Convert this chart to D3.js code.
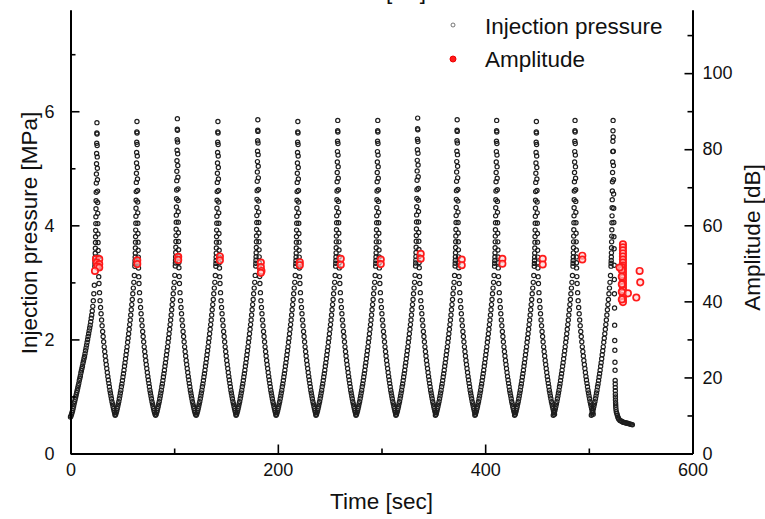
<!DOCTYPE html>
<html><head><meta charset="utf-8">
<script src="https://cdn.jsdelivr.net/npm/d3@7"></script>
<style>
body{margin:0;background:#fff;}
svg{display:block;font-family:"Liberation Sans",Arial,sans-serif;}
</style></head>
<body>
<svg id="chart" width="765" height="519"></svg>
<script>
// ---------- DATA ----------
// Time of each pressure peak (sec) and peak pressure (MPa)
const peakTimes = [25.5, 64.1, 103.1, 142.2, 180.7, 219.3, 257.8, 296.4, 334.9, 373.0, 411.1, 449.4, 486.7, 523.4];
const peakPressures = [5.80, 5.82, 5.87, 5.82, 5.85, 5.82, 5.84, 5.84, 5.88, 5.85, 5.84, 5.82, 5.84, 5.84];

// One injection cycle: time offset from peak (sec) and pressure (MPa)
const cycleOffsets = [
 -21,-20.5,-20,-19.5,-19,-18.5,-18,-17.5,-17,-16.5,-16,-15.5,-15,-14.5,-14,-13.5,-13,-12.5,-12,-11.5,
 -11,-10.5,-10,-9.5,-9,-8.5,-8,-7.5,-7,-6.5,-6,-5.5,-5,-4.5,-4,-3.5,-3,-2.5,
 -2,-1.9,-1.8,-1.7,-1.6,-1.5,-1.4,-1.3,-1.2,-1.1,-1,-0.9,-0.8,-0.7,-0.6,-0.5,-0.4,-0.3,-0.2,-0.1,0,
 0.1,0.2,0.3,0.4,0.5,0.6,0.7,0.8,0.9,1.0,1.1,1.2,1.3,1.4,1.5,1.75,2.0,
 2.5,3,3.5,4,4.5,5,5.5,6,6.5,7,7.5,8,8.5,9,9.5,10,10.5,11,11.5,12,12.5,13,13.5,14,14.5,15,15.5,16,16.5,17,17.5];
const cyclePressures = [
 0.67,0.69,0.72,0.75,0.79,0.83,0.87,0.91,0.96,1.01,1.06,1.11,1.17,1.22,1.28,1.34,1.40,1.46,1.53,1.59,
 1.66,1.73,1.80,1.87,1.95,2.02,2.10,2.18,2.26,2.34,2.43,2.52,2.61,2.70,2.80,2.90,3.00,3.12,
 3.28,3.33,3.38,3.44,3.51,3.60,3.70,3.80,3.91,4.03,4.15,4.29,4.43,4.58,4.74,4.90,5.08,5.26,5.44,5.62,5.80,
 5.60,5.40,5.20,5.00,4.80,4.60,4.40,4.21,4.03,3.85,3.70,3.56,3.44,3.34,3.25,3.10,2.98,
 2.82,2.68,2.56,2.45,2.34,2.24,2.14,2.05,1.96,1.87,1.79,1.71,1.63,1.56,1.49,1.42,1.35,1.29,1.23,1.17,
 1.11,1.06,1.01,0.96,0.91,0.87,0.83,0.79,0.75,0.72,0.69];

// Start of the record (first rise), absolute time (sec) / pressure (MPa)
const startTimes = [0,0.5,1,1.5,2,2.5,3,3.5,4,4.5,5,5.5,6,6.5,7,7.5,8,8.5,9,9.5,10,10.5,11,11.5,12,12.5,13,13.5,14,14.5,15,15.5,16,16.5,17,17.5,18,18.5,19,19.5,20,20.5,21,21.5,22,22.5,23];
const startPressures = [0.64,0.66,0.69,0.72,0.75,0.79,0.83,0.87,0.91,0.95,0.99,1.03,1.07,1.11,1.15,1.19,1.23,1.28,1.32,1.36,1.41,1.45,1.49,1.53,1.58,1.62,1.66,1.70,1.75,1.80,1.85,1.90,1.95,2.00,2.05,2.10,2.15,2.20,2.25,2.31,2.37,2.43,2.50,2.58,2.68,2.80,2.95];

// End of the record (shut-in), absolute time (sec) / pressure (MPa)
const endTimes = [523.5,523.6,523.7,523.8,523.9,524.0,524.1,524.2,524.4,524.5,524.6,524.7,524.8,524.9,525.0,525.1,525.2,525.3,525.4,525.45,525.5,525.55,525.6,525.65,525.7,525.8,525.9,526.0,526.2,526.5,527,527.5,528,528.5,529,530,531,532,533,534,535,536,537,538,539,540,541,542];
const endPressures = [5.55,5.30,5.05,4.80,4.55,4.30,4.05,3.80,3.59,3.30,3.05,2.80,2.55,2.25,1.98,1.81,1.60,1.46,1.28,1.22,1.16,1.10,1.04,0.99,0.94,0.89,0.85,0.81,0.77,0.73,0.70,0.67,0.64,0.62,0.60,0.58,0.57,0.56,0.55,0.545,0.54,0.535,0.53,0.525,0.52,0.515,0.51,0.505];

// Amplitude events: time (sec) and amplitude (dB)
const ampTimes = [
 24.6,27.7,25.3,27.7,25.8,27.7,23.6,
 64.4,64.4, 103.9,103.9, 144.1,144.1, 183.6,183.6,184.2,183.6,
 221.2,221.2, 260.7,260.7, 299.3,299.3, 337.8,337.8, 377.4,377.4, 416.6,416.6, 455.5,455.5, 493.7,493.7,
 532.9,532.9,532.9,532.9,532.9,532.9,532.9,532.9,532.9,532.9,532.9,532.9,532.9,532.9,532.9,532.9,532.9,532.9,532.9,532.9,
 531.8,531.8,531.8,531.8,531.8,531.8,
 529.7,537.7,549.0,549.6,545.8];
const ampDB = [
 51.1,51.1,50.2,49.8,49.2,48.9,48.0,
 50.8,49.8, 51.7,50.9, 51.8,50.8, 50.2,49.0,48.0,47.5,
 50.3,49.5, 51.2,49.6, 51.0,49.8, 52.5,51.2, 51.0,49.5, 51.2,49.9, 51.2,49.7, 52.0,51.0,
 55.0,54.2,53.4,52.6,51.8,51.0,50.2,49.4,48.6,47.8,47.0,46.2,45.4,44.6,43.8,43.0,42.2,41.4,40.6,39.8,
 49.0,48.2,46.5,44.5,42.5,40.5,
 48.9,42.1,48.0,45.0,41.0];

const xTicks = [0, 200, 400, 600];
const xMinor = [100, 300, 500];
const yLeftTicks = [0, 2, 4, 6];
const yLeftMinor = [1, 3, 5, 7];
const yRightTicks = [0, 20, 40, 60, 80, 100];
const yRightMinor = [10, 30, 50, 70, 90, 110];
const seriesNames = ["Injection pressure", "Amplitude"];

// ---------- BUILD PRESSURE SERIES ----------
const pressure = [];
startTimes.forEach((t, i) => pressure.push([t, startPressures[i]]));
const last = peakTimes.length - 1;
peakTimes.forEach((pt, c) => {
  const pk = peakPressures[c];
  cycleOffsets.forEach((o, j) => {
    if (c === 0 && o < -2) return;       // replaced by start record
    if (c === last && o > 0) return;     // replaced by end record
    let p = cyclePressures[j];
    if (p > 3) p = 3 + (p - 3) * (pk - 3) / (5.8 - 3);
    pressure.push([pt + o, p]);
  });
});
endTimes.forEach((t, i) => pressure.push([t, endPressures[i]]));

// ---------- CHART ----------
const svg = d3.select("#chart");
const x = d3.scaleLinear().domain([0, 600]).range([70.5, 692.5]);
const yL = d3.scaleLinear().domain([0, 7.775]).range([453.5, 10]);
const yR = d3.scaleLinear().domain([0, 116.6]).range([453.5, 10]);

// remnant of the (cropped) title above the chart
svg.append("text").attr("x", 406).attr("y", -1).attr("text-anchor", "middle")
  .attr("font-size", 22.5).attr("fill", "#111").text("[dB]");

// pressure points
svg.append("g").selectAll("circle").data(pressure).join("circle")
  .attr("cx", d => x(d[0])).attr("cy", d => yL(d[1])).attr("r", 2.1)
  .attr("fill", "none").attr("stroke", "#1e1e1e").attr("stroke-width", 1.2);

// amplitude points
svg.append("g").selectAll("circle").data(ampTimes.map((t, i) => [t, ampDB[i]])).join("circle")
  .attr("cx", d => x(d[0])).attr("cy", d => yR(d[1])).attr("r", 3.2)
  .attr("fill", "#ffd0d0").attr("fill-opacity", 0.6).attr("stroke", "#ff1a1a").attr("stroke-width", 1.7);

function styleAxis(g) {
  g.select(".domain").attr("stroke", "#000").attr("stroke-width", 2);
  g.selectAll(".tick line").attr("stroke", "#000").attr("stroke-width", 1.6);
  g.selectAll("text").attr("font-size", 18).attr("fill", "#111")
    .attr("font-family", "'Liberation Sans', Arial, sans-serif");
}

// minor ticks
svg.append("g").attr("transform", "translate(0,453.5)")
  .call(d3.axisBottom(x).tickValues(xMinor).tickSize(-5).tickFormat("").tickSizeOuter(0)).call(styleAxis);
svg.append("g").attr("transform", "translate(70.5,0)")
  .call(d3.axisLeft(yL).tickValues(yLeftMinor).tickSize(-5).tickFormat("").tickSizeOuter(0)).call(styleAxis);
svg.append("g").attr("transform", "translate(692.5,0)")
  .call(d3.axisRight(yR).tickValues(yRightMinor).tickSize(-5).tickFormat("").tickSizeOuter(0)).call(styleAxis);

// major axes
svg.append("g").attr("transform", "translate(0,453.5)")
  .call(d3.axisBottom(x).tickValues(xTicks).tickSize(-9).tickPadding(10).tickSizeOuter(0)).call(styleAxis);
svg.append("g").attr("transform", "translate(70.5,0)")
  .call(d3.axisLeft(yL).tickValues(yLeftTicks).tickSize(-9).tickPadding(16).tickSizeOuter(0)).call(styleAxis);
svg.append("g").attr("transform", "translate(692.5,0)")
  .call(d3.axisRight(yR).tickValues(yRightTicks).tickSize(-8).tickPadding(10).tickSizeOuter(0)).call(styleAxis);

// axis titles
svg.append("text").attr("x", 381.5).attr("y", 509).attr("text-anchor", "middle")
  .attr("font-size", 22.5).attr("fill", "#111").text("Time [sec]");
svg.append("text").attr("transform", "translate(37,233) rotate(-90)").attr("text-anchor", "middle")
  .attr("font-size", 22.5).attr("fill", "#111").text("Injection pressure [MPa]");
svg.append("text").attr("transform", "translate(760,237.5) rotate(-90)").attr("text-anchor", "middle")
  .attr("font-size", 22.5).attr("fill", "#111").text("Amplitude [dB]");

// legend
const leg = svg.append("g");
leg.append("circle").attr("cx", 453).attr("cy", 25).attr("r", 2)
  .attr("fill", "none").attr("stroke", "#555").attr("stroke-width", 0.8);
leg.append("text").attr("x", 485).attr("y", 34).attr("font-size", 22.5).attr("fill", "#111").text(seriesNames[0]);
leg.append("circle").attr("cx", 453).attr("cy", 59).attr("r", 3)
  .attr("fill", "#ff1a1a").attr("stroke", "#e00").attr("stroke-width", 1);
leg.append("text").attr("x", 485).attr("y", 67).attr("font-size", 22.5).attr("fill", "#111").text(seriesNames[1]);
</script>
</body></html>
